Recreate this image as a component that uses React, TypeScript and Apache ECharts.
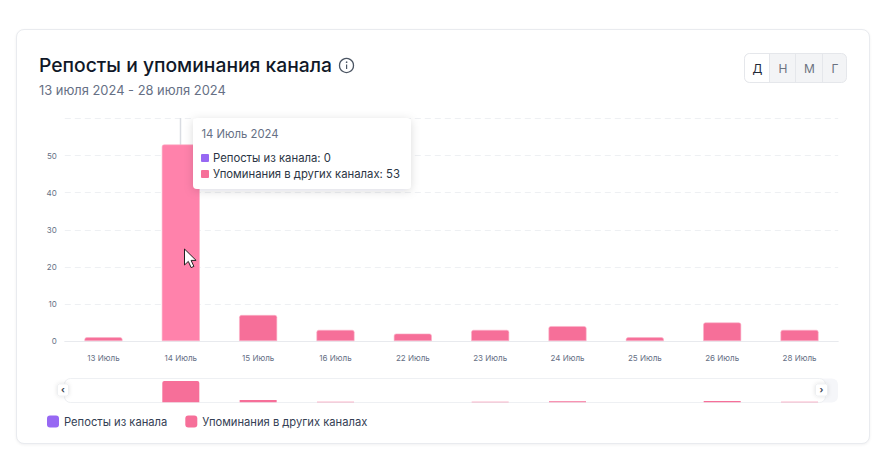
import React, { useEffect, useRef } from "react";
import * as echarts from "echarts";

const categories = ["13 Июль", "14 Июль", "15 Июль", "16 Июль", "22 Июль", "23 Июль", "24 Июль", "25 Июль", "26 Июль", "28 Июль"];
const reposts = [0, 0, 0, 0, 0, 0, 0, 0, 0, 0];
const mentions = [1, 53, 7, 3, 2, 3, 4, 1, 5, 3];
const seriesNames = ["Репосты из канала", "Упоминания в других каналах"];
const rangeButtons = ["Д", "Н", "М", "Г"];
const hoveredIndex = 1;
const titleText = "Репосты и упоминания канала";
const subtitleText = "13 июля 2024 - 28 июля 2024";
const tooltipTitle = "14 Июль 2024";

const PURPLE = "#9768F3";
const PINK = "#F66F99";
const PINK_HOVER = "#FF82AB";
const PINK_EDGE = "#FBB3C9";
const FONT = "Inter, 'Noto Sans', sans-serif";

echarts.graphic.registerShape(
  "cursorArrow",
  echarts.graphic.extendPath("M0 0 L0 16 L3.8 12.4 L6.6 18.6 L9.4 17.4 L6.6 11.4 L11.6 11.4 Z", {})
);

export default function App() {
  const ref = useRef<HTMLDivElement>(null);

  useEffect(() => {
    const chart = echarts.init(ref.current!, null, { renderer: "svg", width: 887, height: 463 });

    const buttonXs = [745, 770, 796, 823];
    const buttonWs = [25, 26, 27, 24];
    const buttonEls: any[] = [
      { type: "rect", z: 5, shape: { x: 744.5, y: 53.5, width: 102, height: 29, r: 5 }, style: { fill: "#F3F4F6", stroke: "#E5E7EB", lineWidth: 1 } },
      { type: "rect", z: 6, shape: { x: 745, y: 54, width: 25, height: 28, r: [5, 0, 0, 5] }, style: { fill: "#FFFFFF" } },
      { type: "line", z: 6, shape: { x1: 769.5, y1: 54, x2: 769.5, y2: 82 }, style: { stroke: "#E5E7EB", lineWidth: 1 } },
      { type: "line", z: 6, shape: { x1: 795.5, y1: 54, x2: 795.5, y2: 82 }, style: { stroke: "#E5E7EB", lineWidth: 1 } },
      { type: "line", z: 6, shape: { x1: 822.5, y1: 54, x2: 822.5, y2: 82 }, style: { stroke: "#E5E7EB", lineWidth: 1 } },
      ...rangeButtons.map((b, i) => ({
        type: "text", z: 7,
        style: {
          x: buttonXs[i] + buttonWs[i] / 2, y: 68, text: b, align: "center", verticalAlign: "middle",
          fill: i === 0 ? "#1F2937" : "#6B7280", fontSize: 12, fontWeight: 400, fontFamily: FONT,
        },
      })),
    ];

    const infoEls: any[] = [
      { type: "circle", z: 5, shape: { cx: 346.5, cy: 65.5, r: 7 }, style: { fill: "none", stroke: "#4B5563", lineWidth: 1.3 } },
      { type: "rect", z: 5, shape: { x: 346, y: 64.5, width: 1.2, height: 4.5 }, style: { fill: "#4B5563" } },
      { type: "circle", z: 5, shape: { cx: 346.6, cy: 62.2, r: 0.8 }, style: { fill: "#4B5563" } },
    ];

    const sliderEls: any[] = [
      { type: "rect", z: 1, shape: { x: 64, y: 378.5, width: 774, height: 24, r: 6 }, style: { fill: "#F5F6F9", stroke: "none" } },
      { type: "rect", z: 1, shape: { x: 64.5, y: 378.5, width: 761, height: 24, r: 6 }, style: { fill: "#FFFFFF", stroke: "#EEF0F3", lineWidth: 1 } },
      { type: "rect", z: 8, shape: { x: 57.5, y: 384, width: 11, height: 12, r: 2 }, style: { fill: "#FFFFFF", stroke: "#E5E7EB", lineWidth: 0.6, shadowBlur: 4, shadowColor: "rgba(0,0,0,0.12)" } },
      { type: "text", z: 9, style: { x: 63, y: 389.5, text: "‹", align: "center", verticalAlign: "middle", fill: "#374151", fontSize: 9, fontWeight: 700, fontFamily: FONT } },
      { type: "rect", z: 8, shape: { x: 815.5, y: 384, width: 12, height: 12, r: 2 }, style: { fill: "#FFFFFF", stroke: "#E5E7EB", lineWidth: 0.6, shadowBlur: 4, shadowColor: "rgba(0,0,0,0.12)" } },
      { type: "text", z: 9, style: { x: 821.5, y: 389.5, text: "›", align: "center", verticalAlign: "middle", fill: "#374151", fontSize: 9, fontWeight: 700, fontFamily: FONT } },
    ];

    const tooltipEls: any[] = [
      { type: "rect", z: 20, shape: { x: 193, y: 118, width: 218, height: 71, r: 4 }, style: { fill: "#FFFFFF", shadowBlur: 10, shadowOffsetY: 2, shadowColor: "rgba(17,24,39,0.14)" } },
      { type: "text", z: 21, style: { x: 201.5, y: 134, text: tooltipTitle, verticalAlign: "middle", fill: "#667085", fontSize: 11.3, fontFamily: FONT } },
      { type: "rect", z: 21, shape: { x: 201, y: 154, width: 8, height: 8, r: 1 }, style: { fill: PURPLE } },
      { type: "text", z: 21, style: { x: 213, y: 158, text: `${seriesNames[0]}: ${reposts[hoveredIndex]}`, verticalAlign: "middle", fill: "#2B3544", fontSize: 11.3, fontFamily: FONT } },
      { type: "rect", z: 21, shape: { x: 201, y: 170, width: 8, height: 8, r: 1 }, style: { fill: PINK } },
      { type: "text", z: 21, style: { x: 213, y: 174, text: `${seriesNames[1]}: ${mentions[hoveredIndex]}`, verticalAlign: "middle", fill: "#2B3544", fontSize: 11.3, fontFamily: FONT } },
    ];

    const edge = { borderColor: PINK_EDGE, borderWidth: 0.6, borderRadius: [2, 2, 0, 0] };

    const option: any = {
      animation: false,
      backgroundColor: "transparent",
      textStyle: { fontFamily: FONT },
      title: {
        left: 39, top: 54, padding: 0, itemGap: 6,
        text: titleText,
        subtext: subtitleText,
        textStyle: { fontSize: 19.3, fontWeight: 500, color: "#101828", fontFamily: FONT, lineHeight: 22 },
        subtextStyle: { fontSize: 12.9, color: "#667085", fontFamily: FONT, lineHeight: 16 },
      },
      legend: {
        left: 47, top: 415.5, padding: 0, itemWidth: 12, itemHeight: 12, itemGap: 18,
        icon: "roundRect",
        itemStyle: { borderWidth: 0 },
        data: seriesNames,
        textStyle: { fontSize: 11.2, color: "#344054", fontFamily: FONT },
      },
      grid: [
        { left: 64.8, right: 48.8, top: 118.5, height: 222.5 },
        { left: 64.8, right: 48.8, top: 381, height: 21.2 },
      ],
      xAxis: [
        {
          type: "category", gridIndex: 0, data: categories,
          axisLine: { lineStyle: { color: "#E8EAEE" } },
          axisTick: { alignWithLabel: true, length: 6, lineStyle: { color: "#E8EAEE" } },
          axisLabel: { fontSize: 8, color: "#667085", margin: 13, fontFamily: FONT },
        },
        {
          type: "category", gridIndex: 1, data: categories,
          axisLine: { show: false }, axisTick: { show: false }, axisLabel: { show: false },
        },
      ],
      yAxis: [
        {
          type: "value", gridIndex: 0, min: 0, max: 60, interval: 10,
          axisLine: { show: false }, axisTick: { show: false },
          axisLabel: { fontSize: 8, color: "#667085", margin: 8, showMaxLabel: false, fontFamily: FONT },
          splitLine: { lineStyle: { color: "#EEF0F3", type: [6, 4] } },
        },
        {
          type: "value", gridIndex: 1, min: 2, max: 53,
          axisLine: { show: false }, axisTick: { show: false }, axisLabel: { show: false }, splitLine: { show: false },
        },
      ],
      series: [
        { name: seriesNames[0], type: "bar", stack: "main", xAxisIndex: 0, yAxisIndex: 0, barWidth: 38, data: reposts, itemStyle: { color: PURPLE } },
        {
          name: seriesNames[1], type: "bar", stack: "main", xAxisIndex: 0, yAxisIndex: 0, barWidth: 38,
          itemStyle: { color: PINK, ...edge },
          data: mentions.map((v, i) => (i === hoveredIndex ? { value: v, itemStyle: { color: PINK_HOVER, ...edge } } : v)),
        },
        {
          name: seriesNames[1], type: "bar", xAxisIndex: 1, yAxisIndex: 1, barWidth: 37, z: 3,
          itemStyle: { color: PINK },
          data: mentions.map((v, i) => (i === hoveredIndex ? { value: v, itemStyle: { color: PINK, borderRadius: [2, 2, 0, 0] } } : v)),
        },
      ],
      graphic: {
        elements: [
          { type: "line", z: 1, shape: { x1: 180.5, y1: 118, x2: 180.5, y2: 145 }, style: { stroke: "#D9DCE2", lineWidth: 1.5 } },
          ...infoEls,
          ...buttonEls,
          ...sliderEls,
          ...tooltipEls,
          { type: "cursorArrow", z: 30, x: 184.5, y: 249, style: { fill: "#FFFFFF", stroke: "#222222", lineWidth: 1 } },
        ],
      },
    };

    chart.setOption(option);
    return () => chart.dispose();
  }, []);

  return (
    <div style={{ position: "fixed", left: 0, top: 0, width: 887, height: 463, background: "#FFFFFF", overflow: "hidden" }}>
      <div
        style={{
          position: "absolute", left: 16, top: 29, width: 854, height: 415, boxSizing: "border-box",
          border: "1px solid #E9EBEF", borderRadius: 8, background: "#FFFFFF",
          boxShadow: "0 1px 3px rgba(16,24,40,0.06)",
        }}
      />
      <div ref={ref} style={{ position: "absolute", left: 0, top: 0, width: 887, height: 463 }} />
    </div>
  );
}
